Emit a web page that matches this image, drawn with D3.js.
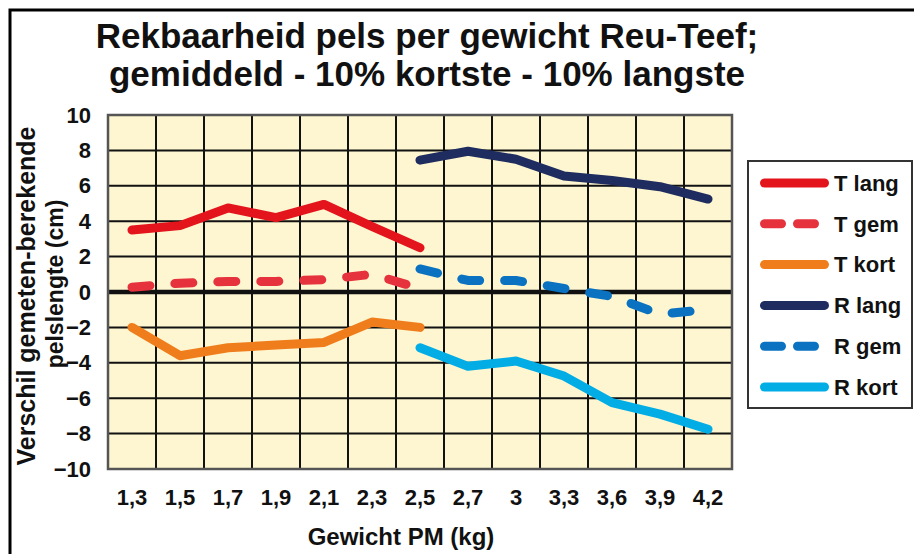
<!DOCTYPE html>
<html>
<head>
<meta charset="utf-8">
<script src="https://cdn.jsdelivr.net/npm/d3@7"></script>
<style>
  body { margin: 0; background: #fff; }
  text { font-family: "Liberation Sans", Arial, sans-serif; font-weight: bold; fill: #111; }
</style>
</head>
<body>
<div id="myChart"></div>
<script>
// categories (Gewicht PM, kg)
let categories = ["1,3", "1,5", "1,7", "1,9", "2,1", "2,3", "2,5", "2,7", "3", "3,3", "3,6", "3,9", "4,2"];

// series values (null = no value)
let tLang = [3.5, 3.75, 4.75, 4.2, 4.95, 3.7, 2.5, null, null, null, null, null, null];
let tGem  = [0.27, 0.5, 0.6, 0.6, 0.7, 1.0, 0.2, null, null, null, null, null, null];
let tKort = [-2.0, -3.6, -3.15, -3.0, -2.85, -1.7, -2.0, null, null, null, null, null, null];
let rLang = [null, null, null, null, null, null, 7.45, 7.95, 7.5, 6.55, 6.3, 5.95, 5.25];
let rGem  = [null, null, null, null, null, null, 1.3, 0.65, 0.65, 0.2, -0.25, -1.25, -1.0];
let rKort = [null, null, null, null, null, null, -3.15, -4.2, -3.9, -4.75, -6.25, -6.9, -7.75];

let yTicks = [10, 8, 6, 4, 2, 0, -2, -4, -6, -8, -10];

let series = [
    {name: "T lang", values: tLang, color: "#e3141c", dash: false},
    {name: "T gem",  values: tGem,  color: "#e5323d", dash: true},
    {name: "T kort", values: tKort, color: "#f07d1c", dash: false},
    {name: "R lang", values: rLang, color: "#1e2c5f", dash: false},
    {name: "R gem",  values: rGem,  color: "#0a72c0", dash: true},
    {name: "R kort", values: rKort, color: "#02ade6", dash: false}
];

let W = 914, H = 554;
let plot = {left: 108, right: 732, top: 115, bottom: 469};

let svg = d3.select("#myChart")
    .append("svg")
        .attr("width", W)
        .attr("height", H);

// outer frame
svg.append("rect")
    .attr("x", 10).attr("y", 10)
    .attr("width", W + 20).attr("height", H + 20)
    .style("fill", "none")
    .style("stroke", "#000")
    .style("stroke-width", 3);

// title (two lines)
svg.append("text")
    .attr("x", 427).attr("y", 48)
    .attr("text-anchor", "middle")
    .style("font-size", "35px")
    .text("Rekbaarheid pels per gewicht Reu-Teef;");
svg.append("text")
    .attr("x", 427).attr("y", 86)
    .attr("text-anchor", "middle")
    .style("font-size", "35px")
    .text("gemiddeld - 10% kortste - 10% langste");

// scales
let x = d3.scaleBand()
    .domain(categories)
    .range([plot.left, plot.right]);

let y = d3.scaleLinear()
    .domain([-10, 10])
    .range([plot.bottom, plot.top]);

// plot background
svg.append("rect")
    .attr("x", plot.left).attr("y", plot.top)
    .attr("width", plot.right - plot.left)
    .attr("height", plot.bottom - plot.top)
    .style("fill", "#fdf6d1");

// horizontal grid
svg.append("g")
    .selectAll("line")
    .data(yTicks)
    .enter()
    .append("line")
        .attr("x1", plot.left).attr("x2", plot.right)
        .attr("y1", d => y(d)).attr("y2", d => y(d))
        .style("stroke", "#111")
        .style("stroke-width", d => d === 0 ? 4.5 : 2);

// vertical grid (band edges)
svg.append("g")
    .selectAll("line")
    .data(categories.slice(1))
    .enter()
    .append("line")
        .attr("x1", d => x(d)).attr("x2", d => x(d))
        .attr("y1", plot.top).attr("y2", plot.bottom)
        .style("stroke", "#111")
        .style("stroke-width", 2);

// plot border
svg.append("rect")
    .attr("x", plot.left).attr("y", plot.top)
    .attr("width", plot.right - plot.left)
    .attr("height", plot.bottom - plot.top)
    .style("fill", "none")
    .style("stroke", "#555")
    .style("stroke-width", 2.5);

// Y axis labels
let yAxis = svg.append("g")
    .attr("transform", "translate(" + (plot.left - 6) + ",0)")
    .call(d3.axisLeft(y).tickValues(yTicks).tickSize(0).tickPadding(11));
yAxis.select(".domain").remove();
yAxis.selectAll("text").style("font-size", "22px").style("font-family", null);

// X axis labels
let xAxis = svg.append("g")
    .attr("transform", "translate(0," + (plot.bottom + 16) + ")")
    .call(d3.axisBottom(x).tickSize(0).tickPadding(4));
xAxis.select(".domain").remove();
xAxis.selectAll("text").style("font-size", "22px").style("font-family", null);

// axis titles
svg.append("text")
    .attr("x", 401).attr("y", 545)
    .attr("text-anchor", "middle")
    .style("font-size", "24px")
    .text("Gewicht PM (kg)");

svg.append("text")
    .attr("transform", "translate(35,296) rotate(-90)")
    .attr("text-anchor", "middle")
    .style("font-size", "25px")
    .text("Verschil gemeten-berekende");
svg.append("text")
    .attr("transform", "translate(63,284) rotate(-90)")
    .attr("text-anchor", "middle")
    .style("font-size", "23px")
    .text("pelslengte (cm)");

// lines
let line = d3.line()
    .defined(d => d !== null)
    .x((d, i) => x(categories[i]) + x.bandwidth() / 2)
    .y(d => y(d));

svg.append("g")
    .selectAll("path")
    .data(series)
    .enter()
    .append("path")
        .attr("d", d => line(d.values))
        .style("fill", "none")
        .style("stroke", d => d.color)
        .style("stroke-width", 9)
        .style("stroke-linecap", "round")
        .style("stroke-linejoin", "round")
        .style("stroke-dasharray", d => d.dash ? "18,25" : null);

// legend
let legend = svg.append("g");
legend.append("rect")
    .attr("x", 748).attr("y", 161)
    .attr("width", 164).attr("height", 247)
    .style("fill", "#fff")
    .style("stroke", "#333")
    .style("stroke-width", 2);

let items = legend.selectAll("g.item")
    .data(series)
    .enter()
    .append("g")
        .attr("class", "item")
        .attr("transform", (d, i) => "translate(0," + (183 + i * 40.8) + ")");

items.append("line")
    .attr("x1", 764.5).attr("x2", 824.5)
    .style("stroke", d => d.color)
    .style("stroke-width", 9)
    .style("stroke-linecap", "round")
    .style("stroke-dasharray", d => d.dash ? "17,16" : null);

items.append("text")
    .attr("x", 834).attr("dy", "0.35em")
    .style("font-size", "22px")
    .text(d => d.name);
</script>
</body>
</html>
